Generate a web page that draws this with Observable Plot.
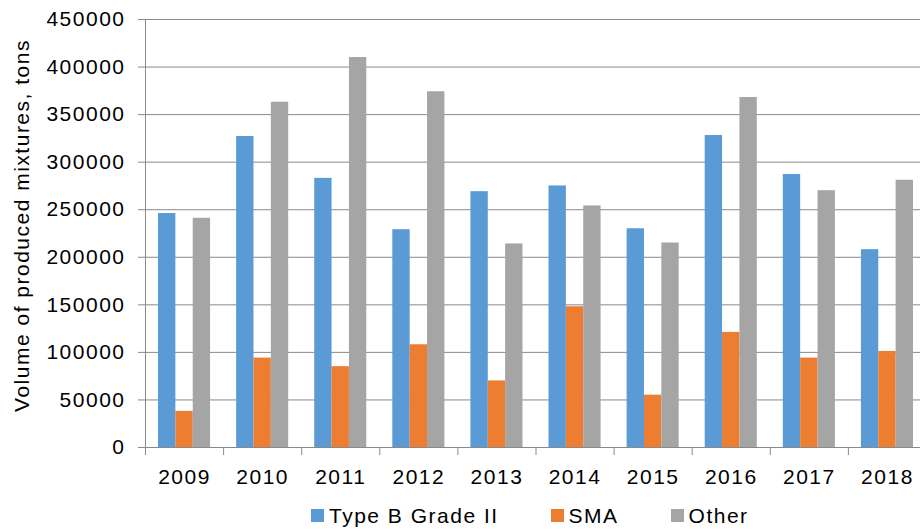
<!DOCTYPE html>
<html>
<head>
<meta charset="utf-8">
<script src="https://cdn.jsdelivr.net/npm/d3@7"></script>
<script src="https://cdn.jsdelivr.net/npm/@observablehq/plot@0.6"></script>
<style>
  html, body { margin: 0; padding: 0; background: #fff; overflow: hidden; }
  #chart svg { overflow: hidden; }
  .legend { display: flex; align-items: center; height: 31px; margin-left: 311px;
            font-family: "Liberation Sans", Arial, sans-serif; font-size: 21px;
            letter-spacing: 1.5px; color: #000; }
  .legend .item { display: flex; align-items: center; margin-right: 52px; }
  .legend .sw { width: 13px; height: 13px; margin-right: 5px; }
</style>
</head>
<body>
<div id="chart"></div>
<script>
// Annual production of asphalt mixtures by type, tons
const years = [2009, 2010, 2011, 2012, 2013, 2014, 2015, 2016, 2017, 2018];
const typeB = [246000, 327000, 283000, 229000, 269000, 275000, 230000, 328000, 287000, 208000];
const sma   = [38000, 94000, 85000, 108000, 70000, 148000, 55000, 121000, 94000, 101000];
const other = [241000, 363000, 410000, 374000, 214000, 254000, 215000, 368000, 270000, 281000];

const seriesNames = ["Type B Grade II", "SMA", "Other"];
const seriesColors = ["#5B9BD5", "#ED7D31", "#A5A5A5"];
const yTicks = [0, 50000, 100000, 150000, 200000, 250000, 300000, 350000, 400000, 450000];
const yTitle = "Volume of produced mixtures, tons";

// long-format rows for the grouped bars
const seriesValues = [typeB, sma, other];
const rows = [];
seriesValues.forEach((vals, i) => {
  vals.forEach((v, j) => rows.push({year: years[j], series: seriesNames[i], idx: i, value: v}));
});

// Each year group: three bars with a gap of 1.5 bar widths between groups
const slots = seriesNames.length + 1.5;
const barX1 = d => d.year - 0.5 + (0.75 + d.idx) / slots;
const barX2 = d => d.year - 0.5 + (1.75 + d.idx) / slots;
const boundaries = years.map(y => y - 0.5).concat([years[years.length - 1] + 0.5]);

const font = "Liberation Sans, Arial, sans-serif";
const gridColor = "#898989";

const chart = Plot.plot({
  width: 920,
  height: 500,
  marginTop: 19,
  marginBottom: 53,
  marginLeft: 145,
  marginRight: 0,
  style: {fontFamily: font, fontSize: "21px", letterSpacing: "1.5px", color: "#000", background: "#fff"},
  x: {type: "linear", domain: [boundaries[0], boundaries[boundaries.length - 1]], range: [145, 926]},
  y: {domain: [0, 450000]},
  color: {domain: seriesNames, range: seriesColors},
  marks: [
    Plot.ruleY(yTicks, {stroke: gridColor, strokeWidth: 1}),
    Plot.ruleX([boundaries[0]], {stroke: gridColor, strokeWidth: 1}),
    Plot.rectY(rows, {x1: barX1, x2: barX2, y: "value", fill: "series"}),
    Plot.axisY({ticks: yTicks, tickFormat: d => String(d), tickSize: 7, tickPadding: 13,
                stroke: gridColor, fill: "#000", fontSize: 21, label: null}),
    Plot.axisX({ticks: boundaries, tickFormat: () => "", tickSize: 8, stroke: gridColor, label: null}),
    Plot.axisX({ticks: years, tickFormat: d => String(d), tickSize: 0, tickPadding: 22,
                fill: "#000", fontSize: 21, label: null}),
    Plot.text([yTitle], {
      frameAnchor: "left", textAnchor: "middle", rotate: -90, dx: -123, dy: -8,
      fontSize: 21, fill: "#000", text: d => d
    })
  ]
});
document.getElementById("chart").appendChild(chart);

// legend below the chart
const legend = d3.select("body").append("div").attr("class", "legend");
seriesNames.forEach((name, i) => {
  const item = legend.append("div").attr("class", "item");
  item.append("div").attr("class", "sw").style("background", seriesColors[i]);
  item.append("span").text(name);
});
</script>
</body>
</html>
